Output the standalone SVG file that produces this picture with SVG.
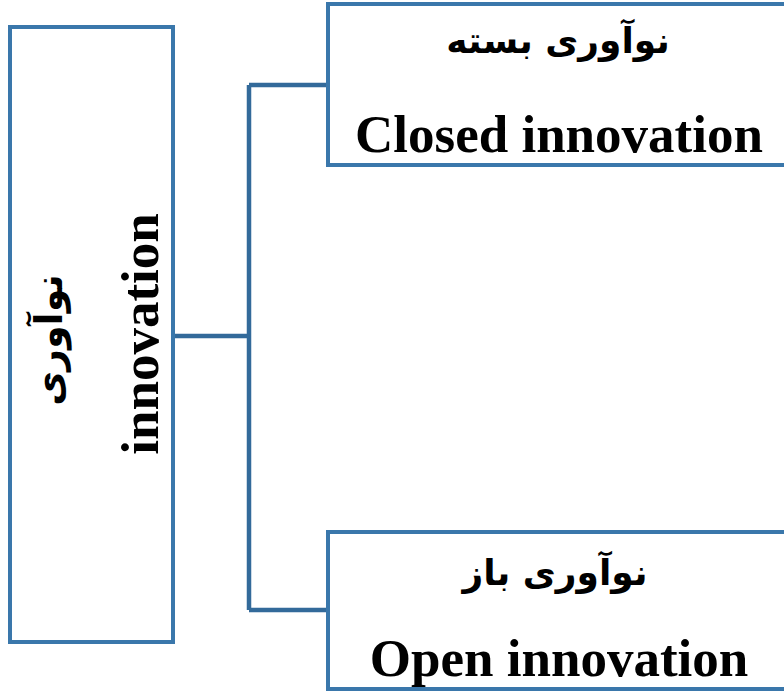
<svg xmlns="http://www.w3.org/2000/svg" width="784" height="693" viewBox="0 0 784 693">
  <style>
    .box { fill: #ffffff; stroke: #3A77AB; stroke-width: 4; }
    .link { fill: none; stroke: #336A9A; stroke-width: 4.5; }
    .en { font-family: "Liberation Serif", "Times New Roman", serif; font-weight: bold; font-size: 53px; fill: #000; text-anchor: middle; }
    .fa { font-family: "DejaVu Sans", "Noto Sans", sans-serif; font-weight: bold; font-size: 36px; fill: #000; text-anchor: middle; direction: rtl; }
  </style>
  <rect width="784" height="693" fill="#ffffff"/>

  <g id="connectors">
    <path class="link" d="M173 336 H249"/>
    <path class="link" d="M249 85 V610"/>
    <path class="link" d="M249 85 H328"/>
    <path class="link" d="M249 610 H328"/>
  </g>

  <g id="node-innovation">
    <rect class="box" x="10" y="27" width="163" height="615"/>
    <text class="fa" transform="translate(62 340) rotate(-90)" style="font-size:38px">نوآوری</text>
    <text class="en" transform="translate(158 334) rotate(-90)">innovation</text>
  </g>

  <g id="node-closed">
    <rect class="box" x="328" y="4" width="470" height="161"/>
    <text class="fa" x="558" y="53">نوآوری بسته</text>
    <text class="en" x="559" y="152">Closed innovation</text>
  </g>

  <g id="node-open">
    <rect class="box" x="328" y="532" width="470" height="157"/>
    <text class="fa" x="555" y="585">نوآوری باز</text>
    <text class="en" x="559" y="676">Open innovation</text>
  </g>
</svg>
